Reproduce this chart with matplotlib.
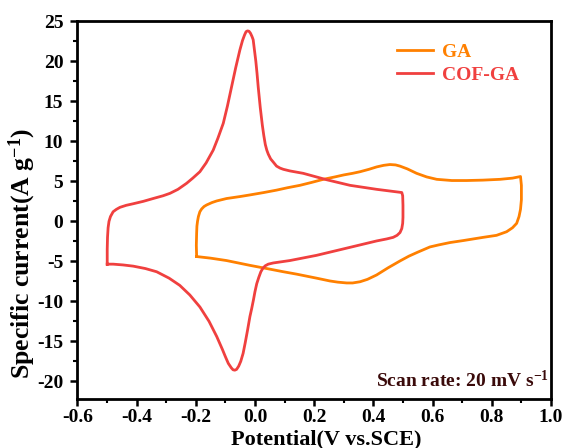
import numpy as np
import matplotlib
matplotlib.use("Agg")
import matplotlib.pyplot as plt
from matplotlib.ticker import MultipleLocator

# Datos (potencial en V, corriente en A/g)
ga_v = [-0.197, -0.198, -0.197, -0.196, -0.194, -0.191, -0.186, -0.180, -0.172,
        -0.163, -0.145, -0.129, -0.096, -0.050, -0.017, 0.030, 0.073, 0.110,
        0.152, 0.190, 0.231, 0.270, 0.300, 0.330, 0.355, 0.385, 0.411, 0.435,
        0.456, 0.475, 0.490, 0.515, 0.546, 0.580, 0.614, 0.665, 0.715, 0.770,
        0.828, 0.870, 0.897, 0.900, 0.900, 0.897, 0.892, 0.884, 0.870, 0.850,
        0.816, 0.771, 0.704, 0.659, 0.620, 0.591, 0.569, 0.550, 0.520, 0.490,
        0.450, 0.411, 0.380, 0.355, 0.330, 0.310, 0.280, 0.253, 0.208, 0.141,
        0.096, 0.040, -0.017, -0.096, -0.150, -0.197]
ga_i = [-4.4, -3.0, -1.5, -0.6, 0.0, 0.6, 1.2, 1.55, 1.85,
        2.05, 2.35, 2.55, 2.85, 3.1, 3.3, 3.6, 3.9, 4.2,
        4.5, 4.85, 5.25, 5.55, 5.8, 6.0, 6.2, 6.5, 6.8, 7.0,
        7.1, 7.05, 6.9, 6.55, 6.0, 5.55, 5.25, 5.1, 5.1, 5.15,
        5.25, 5.4, 5.6, 4.5, 2.7, 1.5, 0.6, -0.25, -0.8, -1.3,
        -1.75, -2.0, -2.4, -2.65, -2.95, -3.2, -3.55, -3.85, -4.35, -4.95,
        -5.8, -6.7, -7.25, -7.55, -7.7, -7.7, -7.6, -7.45, -7.1, -6.6,
        -6.3, -5.9, -5.5, -4.9, -4.6, -4.4]

cof_v = [-0.499, -0.499, -0.498, -0.496, -0.493, -0.488, -0.479, -0.468, -0.456,
         -0.435, -0.411, -0.377, -0.344, -0.310, -0.287, -0.260, -0.231, -0.210,
         -0.186, -0.165, -0.141, -0.125, -0.107, -0.093, -0.079, -0.065, -0.051,
         -0.042, -0.035, -0.030, -0.025, -0.020, -0.015, -0.010, -0.006, -0.002,
         0.003, 0.007, 0.011, 0.018, 0.025, 0.030, 0.035, 0.040, 0.045, 0.053,
         0.062, 0.073, 0.085, 0.096, 0.118, 0.163, 0.242, 0.321, 0.411, 0.496,
         0.499, 0.500, 0.500, 0.499, 0.496, 0.490, 0.480, 0.467, 0.445, 0.411,
         0.321, 0.208, 0.118, 0.062, 0.045, 0.035, 0.027, 0.020, 0.013, 0.006,
         0.000, -0.005, -0.011, -0.017, -0.025, -0.033, -0.040, -0.048, -0.055,
         -0.062, -0.068, -0.074, -0.080, -0.090, -0.100, -0.110, -0.129, -0.155,
         -0.186, -0.220, -0.254, -0.290, -0.332, -0.370, -0.411, -0.445, -0.479,
         -0.499]
cof_i = [-5.35, -3.5, -2.0, -0.8, 0.0, 0.6, 1.2, 1.5, 1.75,
         2.0, 2.2, 2.5, 2.85, 3.2, 3.5, 4.0, 4.75, 5.4,
         6.2, 7.3, 8.9, 10.4, 12.25, 14.4, 16.8, 19.2, 21.4,
         22.6, 23.3, 23.7, 23.8, 23.75, 23.5, 23.1, 22.7, 21.5,
         20.0, 18.5, 16.8, 14.2, 12.0, 10.7, 9.6, 8.9, 8.4, 7.8,
         7.4, 6.9, 6.65, 6.5, 6.3, 6.0, 5.2, 4.5, 4.0, 3.6,
         3.2, 2.0, 0.5, -0.25, -0.9, -1.4, -1.75, -2.0, -2.2, -2.45,
         -3.25, -4.25, -4.9, -5.2, -5.35, -5.55, -5.85, -6.3, -7.0, -7.8,
         -8.8, -9.8, -10.9, -11.9, -13.6, -15.2, -16.5, -17.5, -18.1,
         -18.5, -18.6, -18.55, -18.3, -17.75, -16.9, -16.0, -14.4, -12.5,
         -10.7, -9.2, -8.0, -7.1, -6.3, -5.9, -5.6, -5.45, -5.35,
         -5.35]

c_ga = '#ff8000'
c_cof = '#f0403f'

plt.rcParams['font.family'] = ['Liberation Serif', 'DejaVu Serif']
plt.rcParams['font.weight'] = 'bold'
plt.rcParams['mathtext.fontset'] = 'custom'
plt.rcParams['mathtext.rm'] = 'Liberation Serif:bold'
plt.rcParams['mathtext.default'] = 'rm'
plt.rcParams['axes.unicode_minus'] = False

fig = plt.figure(figsize=(5.66, 4.48), dpi=100)
ax = fig.add_axes([0.1366, 0.1094, 0.8369, 0.8431])

ax.plot(ga_v, ga_i, color=c_ga, lw=2.0, label='GA', solid_joinstyle='round')
ax.plot(cof_v, cof_i, color=c_cof, lw=2.0, label='COF-GA', solid_joinstyle='round')

ax.set_xlim(-0.6, 1.0)
ax.set_ylim(-22.2, 25)
ax.xaxis.set_minor_locator(MultipleLocator(0.1))
ax.yaxis.set_major_locator(MultipleLocator(5))
ax.yaxis.set_minor_locator(MultipleLocator(2.5))
ax.set_xticks(np.arange(-0.6, 1.01, 0.2))
ax.set_xticklabels(['-0.6', '-0.4', '-0.2', '0.0', '0.2', '0.4', '0.6', '0.8', '1.0'])

for s in ax.spines.values():
    s.set_linewidth(2)
ax.tick_params(which='major', direction='out', length=5, width=1.8, labelsize=14)
ax.tick_params(axis='x', which='major', pad=2.5)
ax.tick_params(axis='y', which='major', pad=5)
ax.tick_params(which='minor', direction='out', length=3, width=1.5)
ax.tick_params(top=False, right=False, which='both')

ax.set_xlabel('Potential(V vs.SCE)', fontsize=16, fontweight='bold')
ax.xaxis.set_label_coords(0.525, -0.08)
ax.set_ylabel('Specific current(A g$^{-1}$)', fontsize=18.5, fontweight='bold')
ax.yaxis.set_label_coords(-0.082, 0.385)

leg = ax.legend(loc='upper left', bbox_to_anchor=(0.655, 0.968), frameon=False,
                fontsize=14, handlelength=1.85, handletextpad=0.45, labelspacing=0.3,
                borderpad=0, labelcolor='linecolor')

ax.text(0.995, 0.022, 'Scan rate: 20 mV s$^{-1}$', transform=ax.transAxes,
        ha='right', va='bottom', fontsize=14, fontweight='bold', color='#3a0a0a')

fig.savefig('out.png', dpi=100)
